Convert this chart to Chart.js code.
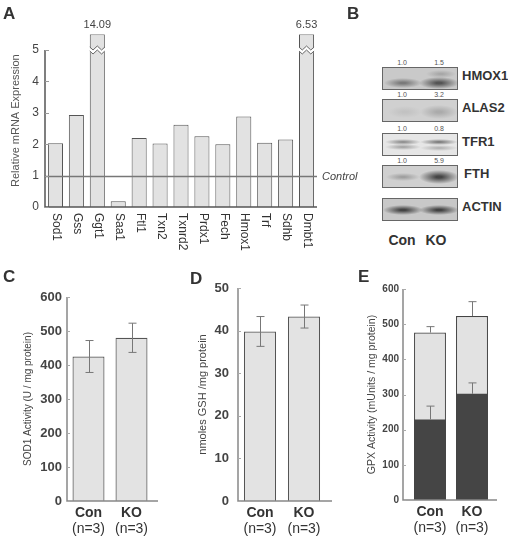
<!DOCTYPE html>
<html>
<head>
<meta charset="utf-8">
<script src="https://cdn.jsdelivr.net/npm/chart.js@4.4.1/dist/chart.umd.min.js"></script>
<style>
  body { margin: 0; background: #fff; }
  #fig { position: relative; width: 508px; height: 540px; overflow: hidden;
         font-family: "Liberation Sans", Arial, sans-serif; color: #333; }
  #fig canvas { position: absolute; }
  .lbl { position: absolute; font-weight: bold; font-size: 17px; line-height: 17px; color: #333; }
  .blot { position: absolute; left: 382px; width: 74px; height: 21px; border: 1px solid #666; }
  .quant { position: absolute; font-size: 7px; line-height: 7px; color: #555; width: 30px; text-align: center; }
  .bname { position: absolute; left: 462px; font-weight: bold; font-size: 13px; line-height: 13px; color: #333; }
  .lane { position: absolute; top: 233px; font-weight: bold; font-size: 14px; line-height: 14px; color: #333; width: 34px; text-align: center; }
</style>
</head>
<body>
<div id="fig">
  <canvas id="chartA" width="362" height="256" style="left:0;top:0"></canvas>
  <canvas id="chartC" width="170" height="290" style="left:0;top:250px"></canvas>
  <canvas id="chartD" width="170" height="290" style="left:170px;top:250px"></canvas>
  <canvas id="chartE" width="168" height="290" style="left:340px;top:250px"></canvas>
  <div id="blots"></div>
  <div class="lbl" style="left:3px;top:5px">A</div>
  <div class="lbl" style="left:347px;top:5px">B</div>
  <div class="lbl" style="left:3px;top:268px">C</div>
  <div class="lbl" style="left:190px;top:270px">D</div>
  <div class="lbl" style="left:358px;top:268px">E</div>
</div>
<script>
// ---- data ----
// A: relative mRNA expression (KO vs control)
const genes = ['Sod1','Gss','Ggt1','Saa1','Ftl1','Txn2','Txnrd2','Prdx1','Fech','Hmox1','Trf','Sdhb','Dmbt1'];
const mrnaValues = [2.03, 2.93, 14.09, 0.18, 2.2, 2.02, 2.62, 2.25, 2.0, 2.88, 2.05, 2.15, 6.53];
const mrnaAxisMax = 5.5;
const mrnaBreakAt = 5;
const controlLevel = 1;

// B: western blot quantification
const blotNames = ['HMOX1','ALAS2','TFR1','FTH','ACTIN'];
const blotCon = ['1.0','1.0','1.0','1.0',''];
const blotKO = ['1.5','3.2','0.8','5.9',''];
const lanes = ['Con','KO'];

// C-E: activities
const groups = ['Con','KO'];
const groupN = ['(n=3)','(n=3)'];
const sodMean = [425, 480];
const sodErr = [47, 43];
const gshMean = [39.8, 43.3];
const gshErr = [3.5, 2.7];
const gpxTotal = [476, 523];
const gpxTotalErr = [17, 41];
const gpxPart = [229, 302];
const gpxPartErr = [38, 31];

const FONT = '"Liberation Sans", Arial, sans-serif';
Chart.defaults.font.family = FONT;
Chart.defaults.animation = false;

// ---- plugins ----
const axisLines = {
  id: 'axisLines',
  afterDatasetsDraw(chart, args, o) {
    const {ctx, chartArea: a, scales: {y}} = chart;
    const ax = a.left - (o.gap || 0);
    const top = y.getPixelForValue(o.top);
    ctx.save();
    ctx.strokeStyle = o.color;
    ctx.lineWidth = o.width;
    ctx.beginPath();
    ctx.moveTo(ax, top);
    ctx.lineTo(ax, a.bottom);
    ctx.lineTo(a.right + (o.extend || 0), a.bottom);
    ctx.stroke();
    ctx.lineWidth = 1;
    ctx.strokeStyle = o.tickColor;
    y.ticks.forEach(t => {
      if (t.value > o.top) return;
      const py = Math.round(y.getPixelForValue(t.value)) + 0.5;
      ctx.beginPath();
      ctx.moveTo(ax, py);
      ctx.lineTo(ax + o.tick, py);
      ctx.stroke();
    });
    ctx.restore();
  }
};

const errorBars = {
  id: 'errorBars',
  afterDatasetsDraw(chart, args, o) {
    const {ctx, scales: {y}} = chart;
    ctx.save();
    ctx.strokeStyle = o.color;
    ctx.lineWidth = 1;
    o.sets.forEach(s => {
      const meta = chart.getDatasetMeta(s.ds);
      const vals = chart.data.datasets[s.ds].data;
      meta.data.forEach((bar, i) => {
        const x = Math.round(bar.x) + 0.5;
        const hi = y.getPixelForValue(vals[i] + s.err[i]);
        const lo = y.getPixelForValue(s.upper ? vals[i] : vals[i] - s.err[i]);
        ctx.beginPath();
        ctx.moveTo(x, hi); ctx.lineTo(x, lo);
        ctx.moveTo(x - o.cap, hi); ctx.lineTo(x + o.cap, hi);
        if (!s.upper) { ctx.moveTo(x - o.cap, lo); ctx.lineTo(x + o.cap, lo); }
        ctx.stroke();
      });
    });
    ctx.restore();
  }
};

const groupLabels = {
  id: 'groupLabels',
  afterDraw(chart) {
    const {ctx, chartArea: a, scales: {x}} = chart;
    ctx.save();
    ctx.fillStyle = '#333';
    ctx.textAlign = 'center';
    ctx.textBaseline = 'middle';
    groups.forEach((g, i) => {
      const px = x.getPixelForValue(i);
      ctx.font = 'bold 14px ' + FONT;
      ctx.fillText(g, px, a.bottom + 12);
      ctx.font = '14px ' + FONT;
      ctx.fillText(groupN[i], px, a.bottom + 28);
    });
    ctx.restore();
  }
};

const geneLabels = {
  id: 'geneLabels',
  afterDraw(chart) {
    const {ctx, chartArea: a, scales: {x}} = chart;
    ctx.save();
    ctx.font = '12px ' + FONT;
    ctx.fillStyle = '#333';
    ctx.textAlign = 'left';
    ctx.textBaseline = 'middle';
    genes.forEach((g, i) => {
      ctx.save();
      ctx.translate(x.getPixelForValue(i) + 1, a.bottom + 6);
      ctx.rotate(Math.PI / 2);
      ctx.fillText(g, 0, 0);
      ctx.restore();
    });
    ctx.restore();
  }
};

// broken bars + control line
const mrnaExtras = {
  id: 'mrnaExtras',
  afterDatasetsDraw(chart) {
    const {ctx, chartArea: a, scales: {y}} = chart;
    const yc = Math.round(y.getPixelForValue(controlLevel)) + 0.5;
    ctx.save();
    ctx.strokeStyle = '#777';
    ctx.lineWidth = 1.5;
    ctx.beginPath();
    ctx.moveTo(a.left, yc); ctx.lineTo(a.right, yc);
    ctx.stroke();
    ctx.font = 'italic 11px ' + FONT;
    ctx.fillStyle = '#444';
    ctx.textBaseline = 'middle';
    ctx.fillText('Control', a.right + 5, yc);

    const meta = chart.getDatasetMeta(0);
    const yb = y.getPixelForValue(mrnaBreakAt);
    mrnaValues.forEach((v, i) => {
      if (v <= mrnaAxisMax) return;
      const bar = meta.data[i];
      const l = bar.x - bar.width / 2 - 1, r = bar.x + bar.width / 2 + 1;
      const w = r - l;
      const xs = [l, l + w / 4, l + w / 2, l + 3 * w / 4, r];
      const dy = [-1, 2, -2, 2, -1];
      ctx.beginPath();
      xs.forEach((px, k) => k ? ctx.lineTo(px, yb + dy[k] - 2) : ctx.moveTo(px, yb + dy[k] - 2));
      for (let k = xs.length - 1; k >= 0; k--) ctx.lineTo(xs[k], yb + dy[k] + 2);
      ctx.closePath();
      ctx.fillStyle = '#fff';
      ctx.fill();
      ctx.strokeStyle = '#666';
      ctx.lineWidth = 1;
      [-2, 2].forEach(off => {
        ctx.beginPath();
        xs.forEach((px, k) => {
          const xx = Math.min(Math.max(px, l + 1), r - 1);
          k ? ctx.lineTo(xx, yb + dy[k] + off) : ctx.moveTo(xx, yb + dy[k] + off);
        });
        ctx.stroke();
      });
      ctx.fillStyle = '#444';
      ctx.font = '11px ' + FONT;
      ctx.textAlign = 'center';
      ctx.textBaseline = 'bottom';
      ctx.fillText(v.toFixed(2), bar.x, bar.y - 4);
      ctx.textAlign = 'left';
    });
    ctx.restore();
  }
};

// ---- A ----
new Chart(document.getElementById('chartA'), {
  type: 'bar',
  data: {
    labels: genes,
    datasets: [{
      data: mrnaValues.map(v => Math.min(v, mrnaAxisMax)),
      backgroundColor: '#e2e2e2',
      borderColor: '#555',
      borderWidth: 1,
      barPercentage: 0.72,
      categoryPercentage: 1
    }]
  },
  options: {
    responsive: false,
    layout: { padding: { top: 34.3, right: 45, left: 0, bottom: 0 } },
    plugins: {
      legend: { display: false }, tooltip: { enabled: false },
      axisLines: { top: mrnaBreakAt, color: '#555', width: 1.5, tickColor: '#999', tick: 4, extend: 0 }
    },
    scales: {
      x: {
        grid: { display: false, drawTicks: false }, border: { display: false },
        ticks: { display: false },
        afterFit: s => { s.height = 49; }
      },
      y: {
        min: 0, max: mrnaAxisMax,
        grid: { display: false, drawTicks: false }, border: { display: false },
        ticks: { stepSize: 1, includeBounds: false, padding: 6, color: '#444', font: { size: 12 } },
        title: { display: true, text: 'Relative mRNA Expression', color: '#555', font: { size: 11 }, padding: { top: 9.4, bottom: 0 } },
        afterFit: s => { s.width = 45; }
      }
    }
  },
  plugins: [mrnaExtras, axisLines, geneLabels]
});

// ---- B (blot) ----
const blotLayout = [
  { top: 66.7, bg: '#c9c9c9', bands: [[20, 15, 19, 5, '#7a7a7a'], [56, 15, 20, 6, '#555'], [58, 6, 15, 4, '#a8a8a8']] },
  { top: 99.3, bg: '#d0d0d0', bands: [[22, 12, 17, 6, '#c2c2c2'], [56, 12, 19, 7, '#ababab']] },
  { top: 132.7, bg: '#e6e6e6', bands: [[20, 8, 18, 3, '#919191'], [20, 13, 18, 3, '#a8a8a8'], [56, 8, 19, 3, '#808080'], [56, 14, 19, 3, '#b5b5b5']] },
  { top: 165, bg: '#d0d0d0', bands: [[20, 11, 17, 4, '#a0a0a0'], [56, 11, 20, 7, '#464646']] },
  { top: 198.3, bg: '#c8c8c8', bands: [[20, 11, 20, 5, '#444'], [56, 11, 20, 5, '#424242']] }
];
const laneX = [402, 439];
const blotBox = document.getElementById('blots');
blotNames.forEach((name, i) => {
  const L = blotLayout[i];
  const box = document.createElement('div');
  box.className = 'blot';
  box.style.top = L.top + 'px';
  box.style.background = L.bands.map(([cx, cy, rx, ry, c]) =>
    `radial-gradient(ellipse ${rx}px ${ry}px at ${cx}px ${cy}px, ${c} 0%, ${c} 15%, rgba(200,200,200,0) 100%)`
  ).join(',') + ',' + L.bg;
  blotBox.appendChild(box);
  [blotCon[i], blotKO[i]].forEach((q, j) => {
    if (!q) return;
    const d = document.createElement('div');
    d.className = 'quant';
    d.textContent = q;
    d.style.left = (laneX[j] - 15) + 'px';
    d.style.top = (L.top - 8) + 'px';
    blotBox.appendChild(d);
  });
  const n = document.createElement('div');
  n.className = 'bname';
  n.textContent = name;
  n.style.top = (L.top + 2) + 'px';
  if (name === 'FTH') n.style.left = '464px';
  blotBox.appendChild(n);
});
lanes.forEach((l, j) => {
  const d = document.createElement('div');
  d.className = 'lane';
  d.textContent = l;
  d.style.left = (laneX[j] - 17 - 3 * j) + 'px';
  blotBox.appendChild(d);
});

// ---- C, D, E ----
function barPanel(id, o) {
  return new Chart(document.getElementById(id), {
    type: 'bar',
    data: { labels: groups, datasets: o.datasets },
    options: {
      responsive: false,
      layout: { padding: { top: o.top, right: o.right, left: 0, bottom: 0 } },
      plugins: {
        legend: { display: false }, tooltip: { enabled: false },
        axisLines: { top: o.max, color: '#888', width: 1.5, tickColor: '#aaa', tick: 3, gap: o.gap || 0, extend: o.extend },
        errorBars: { color: '#777', cap: 4, sets: o.err }
      },
      scales: {
        x: {
          stacked: true,
          grid: { display: false, drawTicks: false }, border: { display: false },
          ticks: { display: false },
          afterFit: s => { s.height = o.xh; }
        },
        y: {
          min: 0, max: o.max, stacked: false,
          grid: { display: false, drawTicks: false }, border: { display: false },
          ticks: { stepSize: o.step, padding: o.pad, color: '#444', font: { size: o.tick, weight: 'bold' } },
          title: { display: true, text: o.title, color: '#444', font: { size: o.ts }, padding: { top: o.tp, bottom: 0 } },
          afterFit: s => { s.width = o.yw; }
        }
      }
    },
    plugins: [axisLines, errorBars, groupLabels]
  });
}

barPanel('chartC', {
  datasets: [{ data: sodMean, backgroundColor: '#e3e3e3', borderColor: '#555', borderWidth: 1.2, barPercentage: 0.744, categoryPercentage: 1 }],
  err: [{ ds: 0, err: sodErr }],
  max: 600, step: 100, top: 47, right: 17, xh: 39, yw: 67, pad: 5, tick: 13,
  title: 'SOD1 Activity (U / mg protein)', ts: 10, tp: 22, extend: 5
});

barPanel('chartD', {
  datasets: [{ data: gshMean, backgroundColor: '#e3e3e3', borderColor: '#555', borderWidth: 1.2, barPercentage: 0.73, categoryPercentage: 1 }],
  err: [{ ds: 0, err: gshErr }],
  max: 50, step: 10, top: 38, right: 14, xh: 39, yw: 68, pad: 9, tick: 13,
  title: 'nmoles GSH /mg protein', ts: 11, tp: 26.4, extend: 6
});

barPanel('chartE', {
  datasets: [
    { data: gpxTotal, backgroundColor: '#e2e2e2', borderColor: '#444', borderWidth: 1.2, barPercentage: 0.76, categoryPercentage: 1, order: 2 },
    { data: gpxPart, backgroundColor: '#454545', borderColor: '#454545', borderWidth: 0, barPercentage: 0.76, categoryPercentage: 1, order: 1 }
  ],
  err: [{ ds: 0, err: gpxTotalErr, upper: true }, { ds: 1, err: gpxPartErr, upper: true }],
  max: 600, step: 100, top: 39, right: 15, xh: 40, yw: 69, pad: 10, tick: 10, gap: 6,
  title: 'GPX Activity (mUnits / mg protein)', ts: 10.5, tp: 25.7, extend: 4
});
</script>
</body>
</html>
